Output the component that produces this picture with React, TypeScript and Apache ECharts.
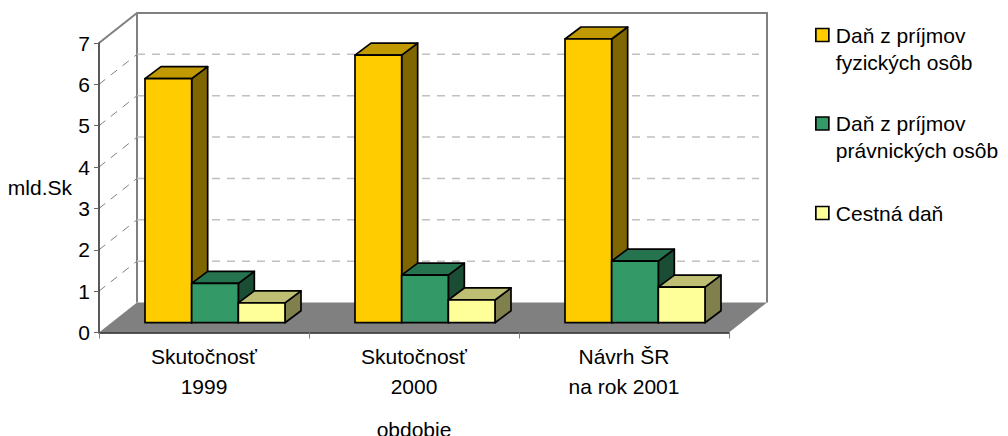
import React, { useEffect, useRef } from "react";
import * as echarts from "echarts";

const categories = ["Skutočnosť\n1999", "Skutočnosť\n2000", "Návrh ŠR\nna rok 2001"];
const gridTicks = [0, 1, 2, 3, 4, 5, 6, 7];
const fyzicke = [5.9, 6.47, 6.86];
const pravnicke = [0.95, 1.15, 1.49];
const cestna = [0.48, 0.55, 0.86];
const seriesNames = ["Daň z príjmov\nfyzických osôb", "Daň z príjmov\nprávnických osôb", "Cestná daň"];
const seriesValues = [fyzicke, pravnicke, cestna];
const faceColors = [
  { front: "#FFCC00", top: "#C09A00", side: "#806600" },
  { front: "#339966", top: "#267350", side: "#1A4D33" },
  { front: "#FFFF99", top: "#BFBF73", side: "#80804D" },
];

const FONT = "'Liberation Sans', Arial, sans-serif";
const FONT_SIZE = 21;
const WALL_DX = 38;
const WALL_DY = -30;
const BAR_DX = 11;
const BAR_DY = -9.8;
const DEPTH_DX = 16;
const DEPTH_DY = -12;
const BAR_SHARE = 2 / 9;

export default function App() {
  const ref = useRef<HTMLDivElement>(null);
  useEffect(() => {
    const chart = echarts.init(ref.current!, undefined, { renderer: "svg" });

    const frameItem = (params: any, api: any) => {
      const v = api.value(1);
      const cs = params.coordSys;
      const left = cs.x;
      const right = cs.x + cs.width;
      const y = api.coord([0, v])[1];
      const children: any[] = [];
      const wallLine = { stroke: "#808080", lineWidth: 2, fill: "none" };
      if (v === gridTicks[0]) {
        children.push({
          type: "polygon",
          shape: {
            points: [
              [left, y],
              [left + WALL_DX, y + WALL_DY],
              [right + WALL_DX, y + WALL_DY],
              [right, y],
            ],
          },
          style: { fill: "#808080", stroke: "none" },
        });
        const topY = api.coord([0, gridTicks[gridTicks.length - 1]])[1];
        children.push({
          type: "polyline",
          shape: {
            points: [
              [left, topY],
              [left + WALL_DX, topY + WALL_DY],
              [right + WALL_DX, topY + WALL_DY],
              [right + WALL_DX, y + WALL_DY],
            ],
          },
          style: wallLine,
        });
        children.push({
          type: "line",
          shape: { x1: left + WALL_DX, y1: topY + WALL_DY, x2: left + WALL_DX, y2: y + WALL_DY },
          style: wallLine,
        });
      } else if (v !== gridTicks[gridTicks.length - 1]) {
        children.push({
          type: "line",
          shape: { x1: left, y1: y, x2: left + WALL_DX, y2: y + WALL_DY },
          style: { stroke: "#808080", lineWidth: 1, lineDash: [8, 7] },
        });
        children.push({
          type: "line",
          shape: { x1: left + WALL_DX, y1: y + WALL_DY, x2: right + WALL_DX - 8, y2: y + WALL_DY },
          style: { stroke: "#C0C0C0", lineWidth: 1.5, lineDash: [8, 7] },
        });
      }
      return { type: "group", children };
    };

    const barItem = (k: number) => (_params: any, api: any) => {
      const c = api.value(0);
      const v = api.value(1);
      const base = api.coord([c, 0]);
      const peak = api.coord([c, v]);
      const w = api.size([1, 0])[0] * BAR_SHARE;
      const x0 = base[0] + BAR_DX + (k - 1.5) * w;
      const x1 = x0 + w;
      const y0 = base[1] + BAR_DY;
      const y1 = peak[1] + BAR_DY;
      const col = faceColors[k];
      const edge = { stroke: "#000", lineWidth: 1.7, lineJoin: "round" };
      return {
        type: "group",
        children: [
          {
            type: "polygon",
            shape: { points: [[x1, y0], [x1 + DEPTH_DX, y0 + DEPTH_DY], [x1 + DEPTH_DX, y1 + DEPTH_DY], [x1, y1]] },
            style: { fill: col.side, ...edge },
          },
          {
            type: "polygon",
            shape: { points: [[x0, y1], [x0 + DEPTH_DX, y1 + DEPTH_DY], [x1 + DEPTH_DX, y1 + DEPTH_DY], [x1, y1]] },
            style: { fill: col.top, ...edge },
          },
          {
            type: "polygon",
            shape: { points: [[x0, y0], [x1, y0], [x1, y1], [x0, y1]] },
            style: { fill: col.front, ...edge },
          },
        ],
      };
    };

    const legendTops = [-5.5, 83, 199.5];
    const option: any = {
      animation: false,
      backgroundColor: "#fff",
      textStyle: { fontFamily: FONT },
      grid: { left: 99, top: 43, width: 630, height: 289.5, containLabel: false, outerBoundsMode: "none" },
      legend: seriesNames.map((name, i) => ({
        data: [{
          name,
          icon: "rect",
          itemStyle: { color: faceColors[i].front, borderColor: "#000", borderWidth: 1.7 },
        }],
        formatter: (n: string) => (n.includes("\n") ? "\n" + n : n),
        textStyle: { lineHeight: 27, fontSize: FONT_SIZE, color: "#000", fontFamily: FONT, padding: [0, 0, 0, 2] },
        left: 815,
        top: legendTops[i],
        padding: 0,
        itemWidth: 13,
        itemHeight: 13,
        itemGap: 0,
        selectedMode: false,
      })),
      xAxis: {
        type: "category",
        data: categories,
        name: "obdobie",
        nameLocation: "middle",
        nameGap: 86,
        nameTextStyle: { fontSize: FONT_SIZE, color: "#000", fontFamily: FONT },
        axisLine: { lineStyle: { color: "#222", width: 1.5 } },
        axisTick: { show: true, length: 6, lineStyle: { color: "#808080", width: 1 } },
        axisLabel: { fontSize: FONT_SIZE, color: "#000", lineHeight: 30, margin: 9, fontFamily: FONT },
        splitLine: { show: false },
      },
      yAxis: {
        type: "value",
        min: 0,
        max: 7,
        interval: 1,
        name: "mld.Sk",
        nameLocation: "middle",
        nameRotate: 0,
        nameGap: 27,
        nameTextStyle: { fontSize: FONT_SIZE, color: "#000", fontFamily: FONT },
        axisLine: { show: true, lineStyle: { color: "#222", width: 1.5 } },
        axisTick: { show: true, length: 5, lineStyle: { color: "#666", width: 1 } },
        axisLabel: { fontSize: FONT_SIZE, color: "#000", margin: 9, fontFamily: FONT },
        splitLine: { show: false },
      },
      series: [
        {
          type: "custom",
          name: "frame",
          z: -1,
          silent: true,
          clip: false,
          renderItem: frameItem,
          encode: { x: 0, y: 1 },
          data: gridTicks.map((t) => [0, t]),
        },
        ...seriesNames.map((name, k) => ({
          type: "custom",
          name,
          silent: true,
          clip: false,
          renderItem: barItem(k),
          encode: { x: 0, y: 1 },
          itemStyle: { color: faceColors[k].front },
          data: seriesValues[k].map((v, i) => [i, v]),
        })),
      ],
    };
    chart.setOption(option);
    return () => chart.dispose();
  }, []);
  return <div ref={ref} style={{ position: "absolute", left: 0, top: 0, width: 1008, height: 436 }} />;
}
